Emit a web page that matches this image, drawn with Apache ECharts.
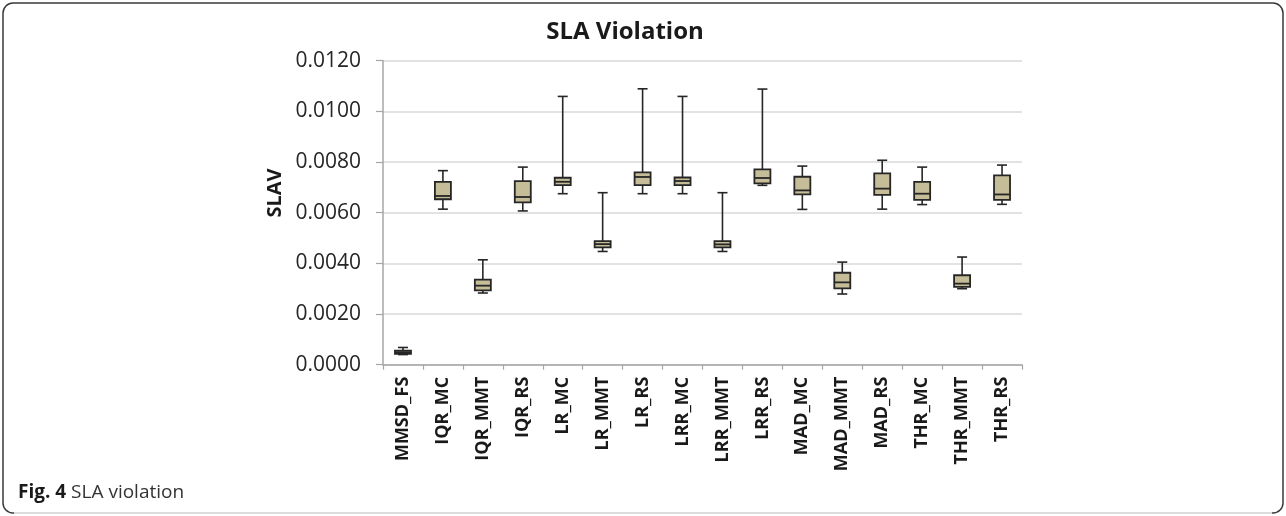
<!DOCTYPE html>
<html>
<head>
<meta charset="utf-8">
<script src="https://cdn.jsdelivr.net/npm/echarts@6/dist/echarts.min.js"></script>
<style>
  html, body { margin: 0; padding: 0; background: #ffffff; }
  #chart { width: 1286px; height: 516px; }
</style>
</head>
<body>
<div id="chart"></div>
<script>
// Allocation / migration policy combinations on the x axis
const categories = ['MMSD_FS', 'IQR_MC', 'IQR_MMT', 'IQR_RS', 'LR_MC', 'LR_MMT', 'LR_RS', 'LRR_MC',
  'LRR_MMT', 'LRR_RS', 'MAD_MC', 'MAD_MMT', 'MAD_RS', 'THR_MC', 'THR_MMT', 'THR_RS'];

// Five-number summary of SLAV per policy
const whiskerLow  = [0.00040, 0.00614, 0.00283, 0.00607, 0.00675, 0.00447, 0.00675, 0.00675,
  0.00447, 0.00708, 0.00613, 0.00279, 0.00614, 0.00632, 0.00300, 0.00633];
const quartile1   = [0.00043, 0.00653, 0.00293, 0.00641, 0.00709, 0.00463, 0.00709, 0.00709,
  0.00463, 0.00716, 0.00672, 0.00301, 0.00670, 0.00651, 0.00307, 0.00651];
const medians     = [0.00048, 0.00666, 0.00312, 0.00662, 0.00722, 0.00476, 0.00741, 0.00725,
  0.00475, 0.00737, 0.00688, 0.00325, 0.00695, 0.00675, 0.00320, 0.00672];
const quartile3   = [0.00055, 0.00722, 0.00336, 0.00725, 0.00738, 0.00488, 0.00759, 0.00739,
  0.00488, 0.00771, 0.00742, 0.00363, 0.00755, 0.00722, 0.00353, 0.00747];
const whiskerHigh = [0.00068, 0.00766, 0.00414, 0.00780, 0.01059, 0.00679, 0.01089, 0.01059,
  0.00679, 0.01088, 0.00784, 0.00405, 0.00807, 0.00780, 0.00425, 0.00788];

// Value-axis ticks
const yTicks = [0.0000, 0.0020, 0.0040, 0.0060, 0.0080, 0.0100, 0.0120];

const boxData = categories.map((c, i) =>
  [i, whiskerLow[i], quartile1[i], medians[i], quartile3[i], whiskerHigh[i]]);

const BOX_W = 16;
const CAP_W = 10;
const INK = '#262626';
const FILL = '#c4bd97';

function renderBox(params, api) {
  const x = api.value(0);
  const pLow = api.coord([x, api.value(1)]);
  const pQ1 = api.coord([x, api.value(2)]);
  const pMed = api.coord([x, api.value(3)]);
  const pQ3 = api.coord([x, api.value(4)]);
  const pHigh = api.coord([x, api.value(5)]);
  const cx = pMed[0];
  const lineStyle = { stroke: INK, lineWidth: 1.6, fill: null };
  return {
    type: 'group',
    children: [
      { type: 'line', shape: { x1: cx, y1: pHigh[1], x2: cx, y2: pQ3[1] }, style: lineStyle },
      { type: 'line', shape: { x1: cx, y1: pQ1[1], x2: cx, y2: pLow[1] }, style: lineStyle },
      { type: 'line', shape: { x1: cx - CAP_W / 2, y1: pHigh[1], x2: cx + CAP_W / 2, y2: pHigh[1] }, style: lineStyle },
      { type: 'line', shape: { x1: cx - CAP_W / 2, y1: pLow[1], x2: cx + CAP_W / 2, y2: pLow[1] }, style: lineStyle },
      { type: 'rect', shape: { x: cx - BOX_W / 2, y: pQ3[1], width: BOX_W, height: pQ1[1] - pQ3[1] },
        style: { fill: FILL, stroke: INK, lineWidth: 1.8 } },
      { type: 'line', shape: { x1: cx - BOX_W / 2, y1: pMed[1], x2: cx + BOX_W / 2, y2: pMed[1] },
        style: { stroke: INK, lineWidth: 1.8 } }
    ]
  };
}

const chart = echarts.init(document.getElementById('chart'), null, { renderer: 'canvas' });

chart.setOption({
  backgroundColor: '#ffffff',
  animation: false,
  textStyle: { fontFamily: 'Open Sans' },
  grid: { left: 383, right: 264, top: 60.7, bottom: 151.3, containLabel: false },
  xAxis: {
    type: 'category',
    data: categories,
    boundaryGap: true,
    axisLine: { lineStyle: { color: '#a6a6a6', width: 1.5 } },
    axisTick: { show: true, length: 5, lineStyle: { color: '#a6a6a6', width: 1.2 } },
    axisLabel: {
      rotate: 90, interval: 0, margin: 12,
      fontFamily: 'Open Sans', fontWeight: 'bold', fontSize: 18, color: '#1a1a1a'
    },
    splitLine: { show: false }
  },
  yAxis: {
    type: 'value',
    min: yTicks[0],
    max: yTicks[yTicks.length - 1],
    interval: yTicks[1] - yTicks[0],
    axisLine: { show: true, lineStyle: { color: '#a6a6a6', width: 1.5 } },
    axisTick: { show: true, length: 7, lineStyle: { color: '#a6a6a6', width: 1.2 } },
    axisLabel: {
      margin: 22, fontFamily: 'Open Sans', fontSize: 21, color: '#262626',
      formatter: v => v.toFixed(4)
    },
    splitLine: { show: true, lineStyle: { color: '#d9d9d9', width: 1.5 } }
  },
  series: [{
    type: 'custom',
    renderItem: renderBox,
    encode: { x: 0, y: [1, 2, 3, 4, 5] },
    data: boxData,
    z: 3
  }],
  graphic: [
    {
      type: 'rect', z: -1, silent: true,
      shape: { x: 3, y: 3, width: 1280, height: 510, r: 10 },
      style: { fill: null, stroke: '#3a3a3a', lineWidth: 1.5 }
    },
    {
      type: 'line', z: 0, silent: true,
      shape: { x1: 14, y1: 513, x2: 1272, y2: 513 },
      style: { stroke: '#dcdcdc', lineWidth: 2 }
    },
    {
      type: 'text', silent: true,
      x: 625, y: 32,
      style: {
        text: 'SLA Violation', fontFamily: 'Open Sans', fontWeight: 'bold', fontSize: 24,
        fill: '#1a1a1a', align: 'center', verticalAlign: 'middle'
      }
    },
    {
      type: 'text', silent: true,
      x: 275, y: 193, rotation: Math.PI / 2,
      style: {
        text: 'SLAV', fontFamily: 'Open Sans', fontWeight: 'bold', fontSize: 20,
        fill: '#1a1a1a', align: 'center', verticalAlign: 'middle'
      }
    },
    {
      type: 'text', silent: true,
      x: 18, y: 493,
      style: {
        text: '{b|Fig. 4}{r| SLA violation}',
        verticalAlign: 'middle',
        rich: {
          b: { fontFamily: 'Open Sans', fontWeight: 'bold', fontSize: 19, fill: '#1a1a1a' },
          r: { fontFamily: 'Open Sans', fontSize: 19, fill: '#333333' }
        }
      }
    }
  ]
});
</script>
</body>
</html>
